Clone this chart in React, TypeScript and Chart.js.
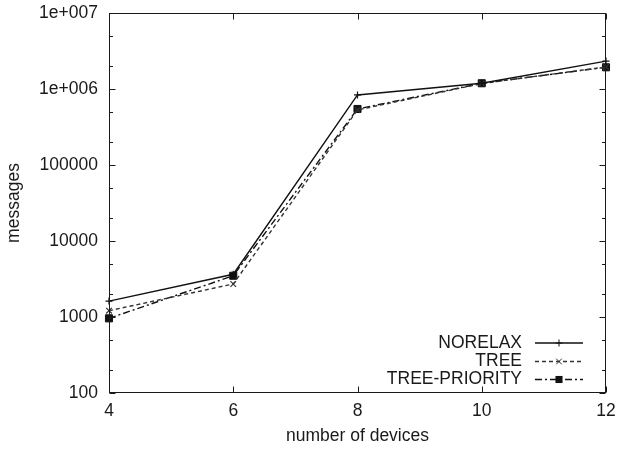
import React, { useEffect, useRef } from 'react';
import { Chart, registerables } from 'chart.js';

Chart.register(...registerables);

// ---- data ----
const devices = [4, 6, 8, 10, 12];
const norelax = [1620, 3650, 835000, 1190000, 2330000];
const tree = [1210, 2720, 530000, 1180000, 1950000];
const treePriority = [960, 3490, 546000, 1190000, 1930000];
const seriesNames = ['NORELAX', 'TREE', 'TREE-PRIORITY'];
const xTicks = [4, 6, 8, 10, 12];
const yMajorTicks = [100, 1000, 10000, 100000, 1000000, 10000000];
const yTickLabels = ['100', '1000', '10000', '100000', '1e+006', '1e+007'];
const yMinorMultipliers = [2, 5];

const FONT = "'Liberation Sans', Arial, sans-serif";
const FONT_SIZE = 17.5;
const INK = '#1a1a1a';

function drawMarker(ctx: CanvasRenderingContext2D, style: string, x: number, y: number, r: number) {
  ctx.beginPath();
  if (style === 'cross') {
    ctx.moveTo(x - r, y); ctx.lineTo(x + r, y);
    ctx.moveTo(x, y - r); ctx.lineTo(x, y + r);
    ctx.stroke();
  } else if (style === 'crossRot') {
    const d = r * Math.SQRT1_2;
    ctx.moveTo(x - d, y - d); ctx.lineTo(x + d, y + d);
    ctx.moveTo(x - d, y + d); ctx.lineTo(x + d, y - d);
    ctx.stroke();
  } else {
    const s = r * Math.SQRT1_2;
    ctx.fillRect(x - s, y - s, 2 * s, 2 * s);
  }
}

const framePlugin = {
  id: 'gnuframe',
  afterDraw(chart: any) {
    const { ctx, chartArea: a, scales } = chart;
    const xs = scales.x;
    const ys = scales.y;
    const L = Math.round(a.left) + 0.5;
    const R = Math.round(a.right) - 0.5;
    const T = Math.round(a.top) + 0.5;
    const B = Math.round(a.bottom) - 0.5;
    ctx.save();
    ctx.strokeStyle = INK;
    ctx.lineWidth = 1;
    ctx.setLineDash([]);
    ctx.strokeRect(L, T, R - L, B - T);
    ctx.beginPath();
    const major = 6;
    const minor = 3.5;
    xTicks.forEach((v) => {
      const px = Math.round(xs.getPixelForValue(v)) + 0.5;
      ctx.moveTo(px, B); ctx.lineTo(px, B - major);
      ctx.moveTo(px, T); ctx.lineTo(px, T + major);
    });
    yMajorTicks.forEach((v) => {
      const py = Math.round(ys.getPixelForValue(v)) + 0.5;
      ctx.moveTo(L, py); ctx.lineTo(L + major, py);
      ctx.moveTo(R, py); ctx.lineTo(R - major, py);
    });
    yMajorTicks.slice(0, -1).forEach((base) => {
      yMinorMultipliers.forEach((m) => {
        const py = Math.round(ys.getPixelForValue(base * m)) + 0.5;
        ctx.moveTo(L, py); ctx.lineTo(L + minor, py);
        ctx.moveTo(R, py); ctx.lineTo(R - minor, py);
      });
    });
    ctx.stroke();

    // legend (inside plot, lower right, text before sample)
    ctx.font = `${FONT_SIZE}px ${FONT}`;
    ctx.textAlign = 'right';
    ctx.textBaseline = 'middle';
    const rowOffsets = [50, 31.5, 13.5];
    chart.data.datasets.forEach((ds: any, i: number) => {
      const y = a.bottom - rowOffsets[i];
      ctx.fillStyle = INK;
      ctx.fillText(ds.label, a.right - 84, y);
      ctx.strokeStyle = ds.borderColor;
      ctx.lineWidth = ds.borderWidth;
      ctx.setLineDash(ds.borderDash || []);
      ctx.beginPath();
      ctx.moveTo(a.right - 71, y);
      ctx.lineTo(a.right - 23, y);
      ctx.stroke();
      ctx.setLineDash([]);
      ctx.strokeStyle = ds.borderColor;
      ctx.fillStyle = ds.pointBackgroundColor;
      ctx.lineWidth = 1;
      drawMarker(ctx, ds.pointStyle, a.right - 47, y, ds.pointRadius);
    });
    ctx.restore();
  },
};

export default function App() {
  const ref = useRef<HTMLCanvasElement>(null);

  useEffect(() => {
    document.body.style.margin = '0';
    const canvas = ref.current;
    if (!canvas) return;
    const toPts = (vals: number[]) => devices.map((d, i) => ({ x: d, y: vals[i] }));
    const chart = new Chart(canvas, {
      type: 'line',
      data: {
        datasets: [
          {
            label: seriesNames[0],
            data: toPts(norelax),
            borderColor: '#111',
            backgroundColor: '#111',
            borderWidth: 1.4,
            borderDash: [],
            pointStyle: 'cross',
            pointRadius: 3.5,
            pointBorderWidth: 1.2,
            pointBackgroundColor: '#111',
            pointBorderColor: '#111',
            tension: 0,
            clip: false,
          },
          {
            label: seriesNames[1],
            data: toPts(tree),
            borderColor: '#333',
            backgroundColor: '#333',
            borderWidth: 1.4,
            borderDash: [4, 3],
            pointStyle: 'crossRot',
            pointRadius: 4,
            pointBorderWidth: 1.2,
            pointBackgroundColor: '#333',
            pointBorderColor: '#333',
            tension: 0,
            clip: false,
          },
          {
            label: seriesNames[2],
            data: toPts(treePriority),
            borderColor: '#111',
            backgroundColor: '#111',
            borderWidth: 1.4,
            borderDash: [7, 3, 2, 3],
            pointStyle: 'rect',
            pointRadius: 5,
            pointBorderWidth: 1,
            pointBackgroundColor: '#111',
            pointBorderColor: '#111',
            tension: 0,
            clip: false,
          },
        ] as any,
      },
      options: {
        responsive: false,
        animation: false,
        maintainAspectRatio: false,
        layout: { padding: { top: 13, right: 13, left: 0, bottom: 0 } },
        plugins: {
          legend: { display: false },
          tooltip: { enabled: false },
        },
        scales: {
          x: {
            type: 'linear',
            min: 4,
            max: 12,
            grid: { display: false, drawTicks: false },
            border: { display: false },
            afterBuildTicks: (s: any) => {
              s.ticks = xTicks.map((v) => ({ value: v }));
            },
            afterFit: (s: any) => {
              s.height = 56;
              s.paddingLeft = 0;
              s.paddingRight = 0;
              s.paddingTop = 0;
              s.paddingBottom = 0;
            },
            ticks: {
              padding: 8,
              color: INK,
              font: { family: FONT, size: FONT_SIZE },
              maxRotation: 0,
              callback: (v: any) => String(v),
            },
            title: {
              display: true,
              text: 'number of devices',
              color: INK,
              font: { family: FONT, size: FONT_SIZE },
              padding: { top: 0, bottom: 2 },
            },
          },
          y: {
            type: 'logarithmic',
            min: 100,
            max: 10000000,
            grid: { display: false, drawTicks: false },
            border: { display: false },
            afterBuildTicks: (s: any) => {
              s.ticks = yMajorTicks.map((v) => ({ value: v }));
            },
            afterFit: (s: any) => {
              s.width = 109;
              s.paddingLeft = 0;
              s.paddingRight = 0;
              s.paddingTop = 0;
              s.paddingBottom = 0;
            },
            ticks: {
              padding: 11,
              color: INK,
              font: { family: FONT, size: FONT_SIZE },
              callback: (v: any) => {
                const idx = yMajorTicks.indexOf(Number(v));
                return idx >= 0 ? yTickLabels[idx] : '';
              },
            },
            title: {
              display: true,
              text: 'messages',
              color: INK,
              font: { family: FONT, size: FONT_SIZE },
              padding: { top: 4, bottom: 0 },
            },
          },
        },
      } as any,
      plugins: [framePlugin],
    });
    return () => chart.destroy();
  }, []);

  return <canvas ref={ref} width={619} height={449} style={{ display: 'block' }} />;
}
